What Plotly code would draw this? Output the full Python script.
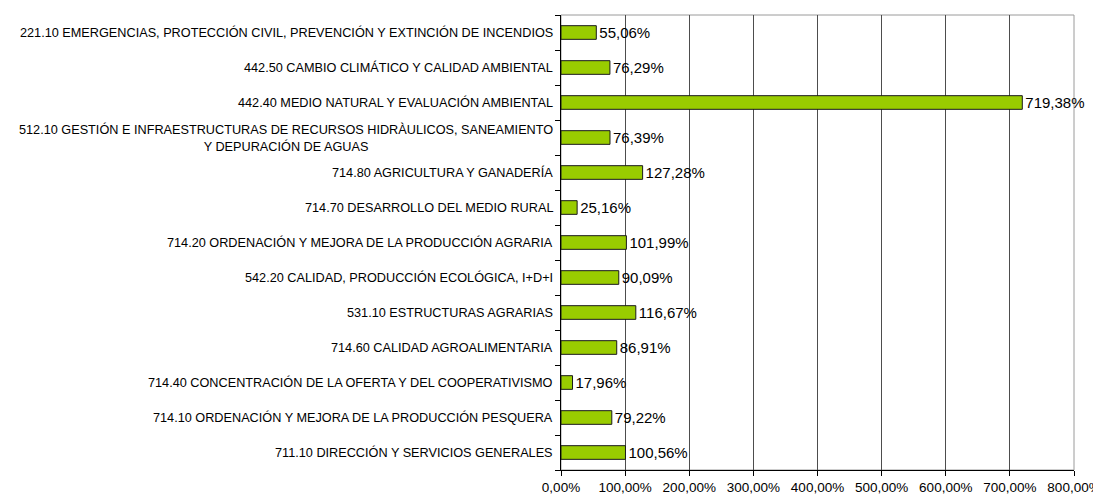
import plotly.graph_objects as go

categories = [
    "221.10 EMERGENCIAS, PROTECCIÓN CIVIL, PREVENCIÓN Y EXTINCIÓN DE INCENDIOS",
    "442.50 CAMBIO CLIMÁTICO Y CALIDAD AMBIENTAL",
    "442.40 MEDIO NATURAL Y EVALUACIÓN AMBIENTAL",
    "512.10 GESTIÓN E INFRAESTRUCTURAS DE RECURSOS HIDRÀULICOS, SANEAMIENTO<br>Y DEPURACIÓN DE AGUAS",
    "714.80 AGRICULTURA Y GANADERÍA",
    "714.70 DESARROLLO DEL MEDIO RURAL",
    "714.20 ORDENACIÓN Y MEJORA DE LA PRODUCCIÓN AGRARIA",
    "542.20 CALIDAD, PRODUCCIÓN ECOLÓGICA, I+D+I",
    "531.10 ESTRUCTURAS AGRARIAS",
    "714.60 CALIDAD AGROALIMENTARIA",
    "714.40 CONCENTRACIÓN DE LA OFERTA Y DEL COOPERATIVISMO",
    "714.10 ORDENACIÓN Y MEJORA DE LA PRODUCCIÓN PESQUERA",
    "711.10 DIRECCIÓN Y SERVICIOS GENERALES",
]
values = [55.06, 76.29, 719.38, 76.39, 127.28, 25.16, 101.99, 90.09, 116.67, 86.91, 17.96, 79.22, 100.56]
tick_vals = [0, 100, 200, 300, 400, 500, 600, 700, 800]
tick_text = ["0,00%", "100,00%", "200,00%", "300,00%", "400,00%", "500,00%", "600,00%", "700,00%", "800,00%"]

labels = [f"{v:.2f}".replace(".", ",") + "%" for v in values]
ids = list(range(len(categories)))

FONT = "Liberation Sans, Arial, sans-serif"

fig = go.Figure()
fig.add_trace(go.Bar(
    x=values, y=ids, orientation="h",
    marker=dict(color="#99CC00", line=dict(color="#1a1a1a", width=1)),
    width=0.39,
    text=labels, textposition="outside", constraintext="none",
    textfont=dict(family=FONT, size=15, color="#000000"),
    cliponaxis=False,
    hoverinfo="skip",
))

for i, c in zip(ids, categories):
    fig.add_annotation(
        x=0, xref="paper", y=i, yref="y", xanchor="right", yanchor="middle",
        xshift=-6, text=c, showarrow=False, align="center",
        font=dict(family=FONT, size=12.7, color="#000000"),
    )

fig.add_shape(type="rect", xref="paper", yref="paper", x0=0, x1=1, y0=0, y1=1,
              line=dict(color="#9a9a9a", width=1), layer="below")

# the page body adds an 8px offset, so the figure is sized to fit the window
fig.update_layout(
    width=1093, height=488,
    margin=dict(l=553, r=27, t=7, b=26, autoexpand=False),
    paper_bgcolor="white", plot_bgcolor="white",
    showlegend=False,
    font=dict(family=FONT, size=12, color="#000000"),
    xaxis=dict(
        range=[0, 800], tickvals=tick_vals, ticktext=tick_text,
        showgrid=True, gridcolor="#4d4d4d", gridwidth=1,
        showline=True, linecolor="#000000", linewidth=1,
        ticks="outside", ticklen=5, tickcolor="#000000",
        tickfont=dict(family=FONT, size=13.5, color="#000000"),
        zeroline=False, fixedrange=True, automargin=False,
    ),
    yaxis=dict(
        type="linear", range=[len(categories) - 0.5, -0.5],
        tickvals=[i - 0.5 for i in range(len(categories) + 1)], ticktext=[""] * (len(categories) + 1),
        showgrid=False, showline=True, linecolor="#000000", linewidth=1,
        ticks="outside", ticklen=5, tickcolor="#000000",
        zeroline=False, fixedrange=True, automargin=False,
    ),
)

fig.write_html("out.html")
